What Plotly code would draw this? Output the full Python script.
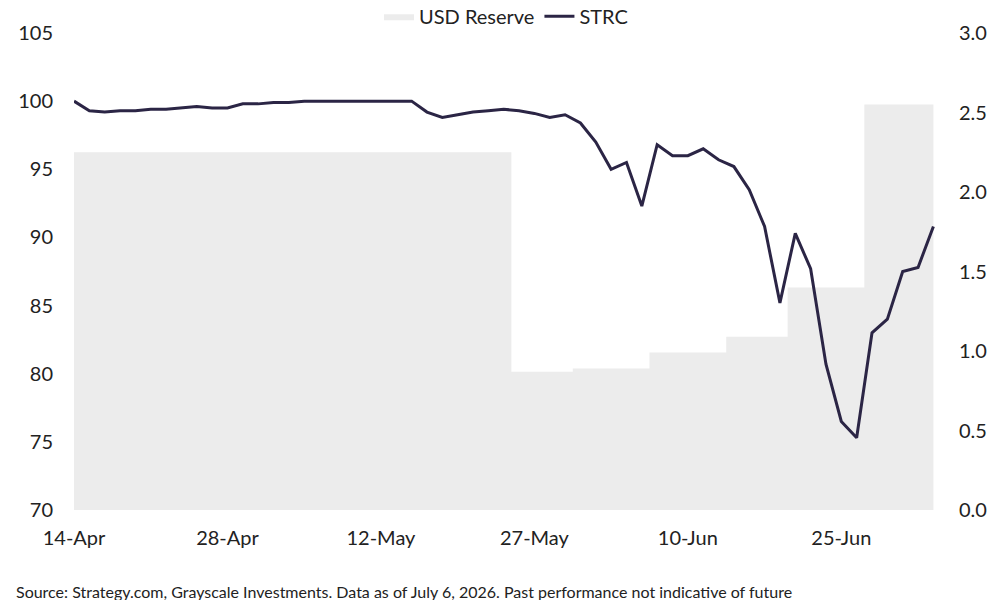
import pandas as pd
import plotly.graph_objects as go

holidays = ["2026-05-25", "2026-06-19", "2026-07-03"]
dates = [d for d in pd.bdate_range("2026-04-14", "2026-07-06") if d.strftime("%Y-%m-%d") not in holidays]
day_idx = list(range(len(dates)))

strc = [100.0, 99.3, 99.2, 99.3, 99.3, 99.4, 99.4, 99.5, 99.6, 99.5,
        99.5, 99.8, 99.8, 99.9, 99.9, 100.0, 100.0, 100.0, 100.0, 100.0,
        100.0, 100.0, 100.0, 99.2, 98.8, 99.0, 99.2, 99.3, 99.4, 99.3,
        99.1, 98.8, 99.0, 98.4, 97.0, 95.0, 95.5, 92.3, 96.8, 96.0,
        96.0, 96.5, 95.7, 95.2, 93.5, 90.8, 85.2, 90.3, 87.7, 80.7,
        76.5, 75.3, 83.0, 84.0, 87.5, 87.8, 90.8]

usd_reserve = [2.25] * 29 + [0.87] * 4 + [0.89] * 5 + [0.99] * 5 + [1.09] * 4 + [1.40] * 5 + [2.55] * 5

tick_idx = [0, 10, 20, 30, 40, 50]
tick_text = [dates[i].strftime("%-d-%b") for i in tick_idx]

font = "Lato, Inter, sans-serif"

fig = go.Figure()
fig.add_trace(go.Scatter(
    x=day_idx, y=usd_reserve, name="USD Reserve", yaxis="y",
    mode="lines", line=dict(width=0, shape="hvh", color="#ececec"),
    fill="tozeroy", fillcolor="#ececec",
))
fig.add_trace(go.Scatter(
    x=day_idx, y=strc, name="STRC", mode="lines", yaxis="y2",
    line=dict(color="#2b2545", width=3),
))

fig.update_layout(
    width=1000, height=600,
    margin=dict(l=66, r=70, t=25, b=98, autoexpand=False),
    plot_bgcolor="white", paper_bgcolor="white",
    font=dict(family=font, size=20, color="#222222"),
    showlegend=True,
    legend=dict(orientation="h", x=0.5, xanchor="center", y=1.035,
                yanchor="middle", font=dict(size=20), traceorder="normal"),
    xaxis=dict(range=[0, 56.3], tickvals=tick_idx, ticktext=tick_text, automargin=False,
               showgrid=False, zeroline=False, showline=False,
               ticks="outside", ticklen=10, tickcolor="rgba(0,0,0,0)"),
    yaxis=dict(range=[0, 3.0], dtick=0.5, tickformat=".1f", side="right", automargin=False,
               showgrid=False, zeroline=False, ticklabelstandoff=20),
    yaxis2=dict(range=[70, 105], dtick=5, overlaying="y", side="left", automargin=False,
                showgrid=False, zeroline=False, showline=False, ticklabelstandoff=20),
    annotations=[dict(
        text="Source: Strategy.com, Grayscale Investments. Data as of July 6, 2026. Past performance not indicative of future",
        xref="paper", yref="paper", x=-0.07, y=-0.17, xanchor="left", yanchor="middle",
        showarrow=False, font=dict(size=16),
    )],
)

fig.write_html("out.html")
